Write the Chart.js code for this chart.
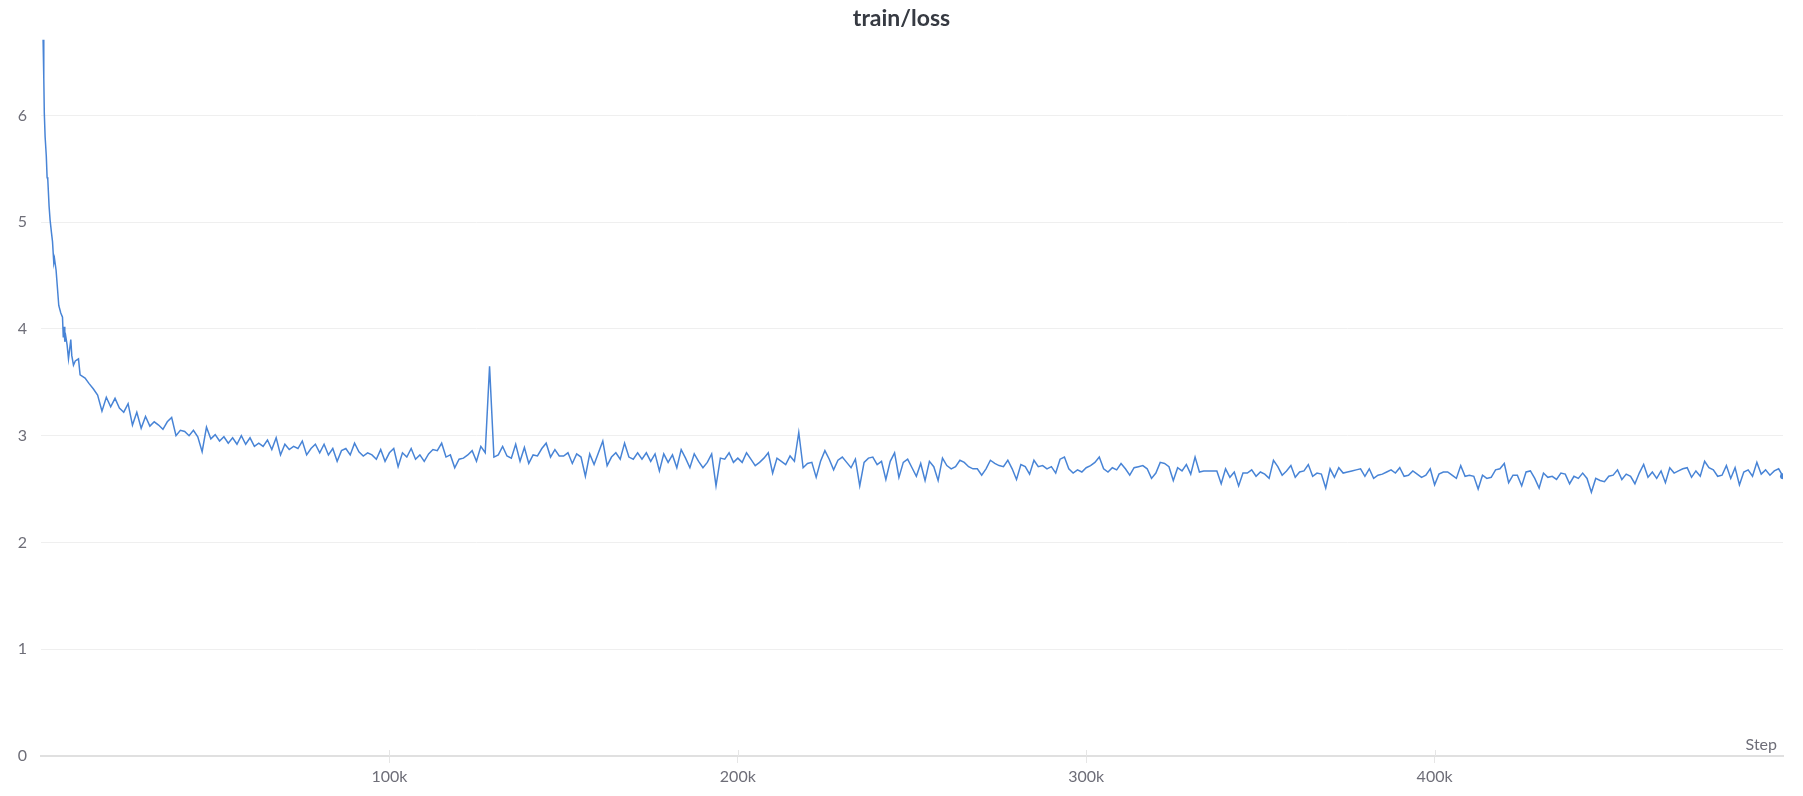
<!DOCTYPE html>
<html>
<head>
<meta charset="utf-8">
<title>train/loss</title>
<script src="https://cdn.jsdelivr.net/npm/chart.js@4.4.1/dist/chart.umd.min.js"></script>
<style>
  html, body { margin: 0; padding: 0; background: #fff; }
  #wrap { width: 1803px; height: 796px; }
</style>
</head>
<body>
<div id="wrap"><canvas id="loss-chart" width="1803" height="796"></canvas></div>
<script>
// first steps logged by hand (steep part), then regular logging
var earlySteps = [600, 800, 950, 1180, 1520, 1750, 1950, 2320, 2610, 3010,
  3300, 3670, 3870, 4330, 4680, 5100, 5680, 6170, 6400, 6630,
  6830, 7110, 7490, 7890, 8260, 8550, 8840, 9320, 9840, 10760,
  11220, 12650];
var earlyLoss = [6.71, 6.35, 6.02, 5.80, 5.62, 5.42, 5.40, 5.15, 5.02, 4.90,
  4.82, 4.62, 4.66, 4.55, 4.40, 4.22, 4.15, 4.11, 3.92, 4.02,
  3.88, 3.93, 3.85, 3.72, 3.82, 3.90, 3.75, 3.66, 3.70, 3.72,
  3.57, 3.54];

var logStart = 13750;
var logEvery = 1250;
var loss = [
  3.49, 3.44, 3.38, 3.23, 3.36, 3.27, 3.35, 3.26, 3.22, 3.30,
  3.10, 3.22, 3.07, 3.18, 3.09, 3.13, 3.10, 3.06, 3.13, 3.17,
  3.00, 3.05, 3.04, 3.00, 3.05, 2.99, 2.85, 3.08, 2.97, 3.01,
  2.95, 2.99, 2.93, 2.98, 2.92, 3.00, 2.92, 2.98, 2.90, 2.93,
  2.90, 2.96, 2.87, 2.98, 2.82, 2.92, 2.87, 2.90, 2.88, 2.95,
  2.82, 2.88, 2.92, 2.84, 2.92, 2.82, 2.88, 2.76, 2.86, 2.88,
  2.82, 2.93, 2.85, 2.81, 2.84, 2.82, 2.78, 2.87, 2.76, 2.84,
  2.88, 2.71, 2.84, 2.80, 2.88, 2.78, 2.82, 2.76, 2.83, 2.87,
  2.86, 2.93, 2.80, 2.82, 2.70, 2.78, 2.79, 2.82, 2.86, 2.76,
  2.90, 2.84, 3.65, 2.80, 2.82, 2.90, 2.81, 2.79, 2.92, 2.76,
  2.89, 2.74, 2.82, 2.81, 2.88, 2.93, 2.80, 2.87, 2.81, 2.81,
  2.84, 2.74, 2.83, 2.80, 2.62, 2.83, 2.73, 2.84, 2.95, 2.72,
  2.80, 2.84, 2.78, 2.93, 2.80, 2.78, 2.84, 2.78, 2.84, 2.76,
  2.83, 2.67, 2.83, 2.75, 2.82, 2.70, 2.87, 2.79, 2.70, 2.83,
  2.76, 2.70, 2.75, 2.83, 2.53, 2.79, 2.78, 2.84, 2.75, 2.79,
  2.75, 2.84, 2.78, 2.72, 2.75, 2.79, 2.84, 2.65, 2.79, 2.76,
  2.73, 2.81, 2.76, 3.03, 2.70, 2.74, 2.75, 2.61, 2.76, 2.86,
  2.78, 2.68, 2.77, 2.80, 2.75, 2.70, 2.78, 2.53, 2.75, 2.79,
  2.80, 2.73, 2.76, 2.59, 2.76, 2.84, 2.61, 2.75, 2.78, 2.70,
  2.62, 2.74, 2.58, 2.76, 2.71, 2.58, 2.79, 2.72, 2.69, 2.71,
  2.77, 2.75, 2.71, 2.69, 2.69, 2.63, 2.69, 2.77, 2.74, 2.72,
  2.71, 2.77, 2.69, 2.59, 2.73, 2.71, 2.64, 2.77, 2.71, 2.72,
  2.69, 2.71, 2.65, 2.78, 2.80, 2.69, 2.65, 2.68, 2.66, 2.70,
  2.72, 2.75, 2.80, 2.69, 2.66, 2.70, 2.68, 2.74, 2.69, 2.63,
  2.70, 2.71, 2.72, 2.69, 2.60, 2.65, 2.75, 2.74, 2.71, 2.58,
  2.70, 2.67, 2.73, 2.64, 2.80, 2.66, 2.67, 2.67, 2.67, 2.67,
  2.55, 2.69, 2.61, 2.66, 2.53, 2.65, 2.65, 2.68, 2.62, 2.66,
  2.64, 2.60, 2.77, 2.71, 2.63, 2.67, 2.72, 2.61, 2.66, 2.67,
  2.73, 2.62, 2.65, 2.64, 2.51, 2.69, 2.61, 2.70, 2.65, 2.66,
  2.67, 2.68, 2.69, 2.62, 2.69, 2.60, 2.63, 2.64, 2.66, 2.68,
  2.65, 2.70, 2.62, 2.63, 2.67, 2.64, 2.61, 2.63, 2.69, 2.54,
  2.64, 2.66, 2.66, 2.63, 2.60, 2.72, 2.62, 2.63, 2.62, 2.50,
  2.63, 2.60, 2.61, 2.68, 2.69, 2.74, 2.56, 2.63, 2.63, 2.53,
  2.66, 2.67, 2.60, 2.51, 2.65, 2.61, 2.62, 2.59, 2.65, 2.64,
  2.55, 2.62, 2.60, 2.65, 2.60, 2.47, 2.60, 2.58, 2.57, 2.62,
  2.63, 2.68, 2.59, 2.64, 2.62, 2.55, 2.65, 2.73, 2.61, 2.66,
  2.60, 2.67, 2.56, 2.70, 2.65, 2.67, 2.69, 2.70, 2.61, 2.67,
  2.62, 2.76, 2.70, 2.68, 2.62, 2.63, 2.72, 2.60, 2.70, 2.54,
  2.66, 2.68, 2.62, 2.75, 2.64, 2.68, 2.63, 2.67, 2.69, 2.62
];

var xTicks = [100000, 200000, 300000, 400000];
var yTicks = [0, 1, 2, 3, 4, 5, 6];

var lineColor = 'rgb(72, 132, 214)';
var labelColor = '#6e6e78';

var points = earlySteps.map(function (s, i) { return { x: s, y: earlyLoss[i] }; })
  .concat(loss.map(function (v, i) { return { x: logStart + i * logEvery, y: v }; }));
var lastIdx = points.length - 1;

// "Step" label sits above the axis line at the right end,
// and the x tick marks poke a little above the axis line too
var stepLabel = {
  id: 'stepLabel',
  afterDraw: function (chart) {
    var ctx = chart.ctx, a = chart.chartArea, xs = chart.scales.x;
    ctx.save();
    ctx.strokeStyle = '#e6e6e6';
    ctx.lineWidth = 1;
    xTicks.forEach(function (v) {
      var px = Math.round(xs.getPixelForValue(v)) + 0.5;
      ctx.beginPath();
      ctx.moveTo(px, a.bottom - 6);
      ctx.lineTo(px, a.bottom);
      ctx.stroke();
    });
    ctx.font = '16px Lato';
    ctx.fillStyle = labelColor;
    ctx.textAlign = 'right';
    ctx.textBaseline = 'alphabetic';
    ctx.fillText('Step', a.right - 6, a.bottom - 6);
    ctx.restore();
  }
};

var ctx = document.getElementById('loss-chart').getContext('2d');
var lossChart = new Chart(ctx, {
  type: 'line',
  data: {
    datasets: [{
      label: 'train/loss',
      data: points,
      borderColor: lineColor,
      backgroundColor: lineColor,
      borderWidth: 1.5,
      tension: 0,
      pointRadius: function (c) { return c.dataIndex === lastIdx ? 3 : 0; },
      pointHoverRadius: 0,
      pointBorderWidth: 0
    }]
  },
  options: {
    responsive: false,
    devicePixelRatio: 1,
    animation: false,
    layout: { padding: 0 },
    plugins: {
      legend: { display: false },
      tooltip: { enabled: false },
      title: {
        display: true,
        text: 'train/loss',
        color: '#363a42',
        font: { family: 'Lato', size: 23, weight: 'bold' },
        padding: { top: 5, bottom: 7 }
      }
    },
    scales: {
      x: {
        type: 'linear',
        min: 0,
        max: 500000,
        afterFit: function (s) { s.height = 40; },
        afterBuildTicks: function (s) { s.ticks = xTicks.map(function (v) { return { value: v }; }); },
        border: { display: true, color: '#e0e0e0', width: 2 },
        grid: { drawOnChartArea: false, drawTicks: true, tickLength: 7, color: '#e6e6e6' },
        ticks: {
          color: labelColor,
          padding: 4,
          maxRotation: 0,
          font: { family: 'Lato', size: 16 },
          callback: function (v) { return (v / 1000) + 'k'; }
        }
      },
      y: {
        min: 0,
        max: 6.71,
        afterFit: function (s) { s.width = 41; },
        afterBuildTicks: function (s) { s.ticks = yTicks.map(function (v) { return { value: v }; }); },
        border: { display: false },
        grid: { color: '#efefef', lineWidth: 1, drawTicks: false },
        ticks: {
          color: labelColor,
          padding: 14,
          font: { family: 'Lato', size: 16 }
        }
      },
      // empty right-hand spacer so the title stays centred on the page
      spacer: {
        position: 'right',
        afterFit: function (s) { s.width = 20; },
        border: { display: false },
        grid: { display: false },
        ticks: { display: false }
      }
    }
  },
  plugins: [stepLabel]
});
</script>
</body>
</html>
